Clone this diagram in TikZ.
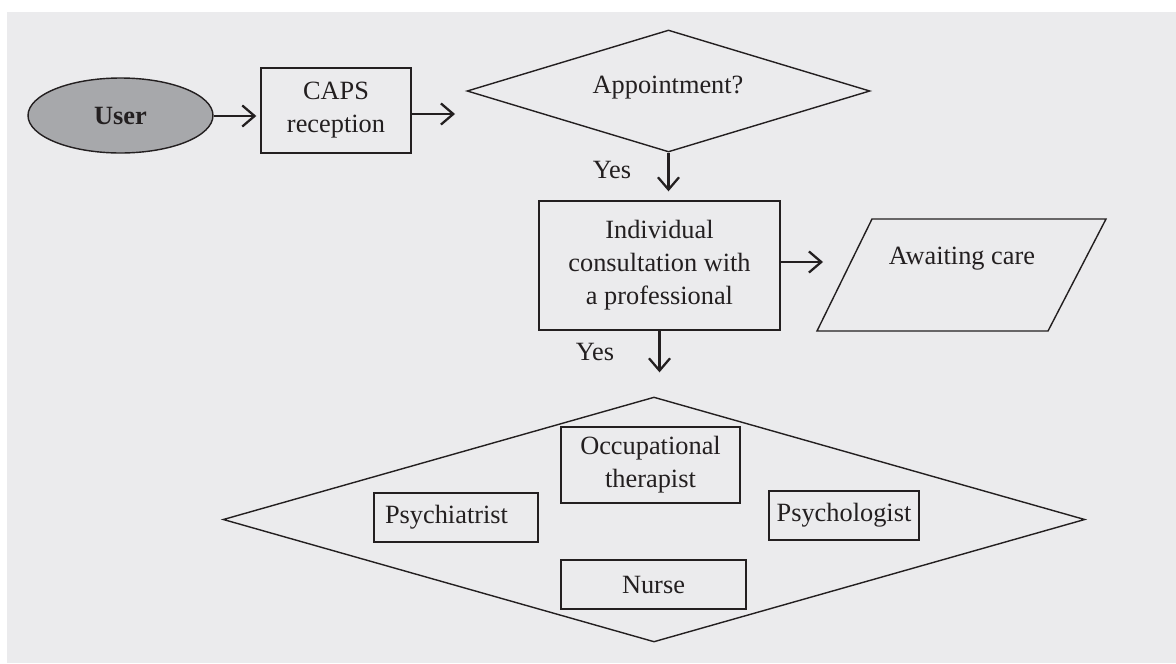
\documentclass[tikz,border=0pt]{standalone}
\usepackage{fontspec}
\setmainfont{Liberation Serif}
\usetikzlibrary{shapes.geometric,arrows.meta}
\definecolor{bg}{RGB}{235,235,237}
\definecolor{ink}{RGB}{35,31,32}
\definecolor{userfill}{RGB}{167,168,171}
\begin{document}
\begin{tikzpicture}[x=0.02cm,y=-0.02cm,
  font=\fontsize{15}{18.7}\selectfont, text=ink,
  box/.style={draw=ink, line width=0.8pt, rectangle, inner sep=0pt, align=center},
  dec/.style={draw=ink, line width=0.8pt, diamond, inner sep=0pt, align=center},
  arr/.style={draw=ink, line width=1.3pt, -{Straight Barb[length=7pt,width=12pt]}}]
\fill[white] (0,0) rectangle (1176,663);
\fill[bg] (7,12) rectangle (1176,663);
\useasboundingbox (0,0) rectangle (1176,663);

\node[ellipse, draw=ink, fill=userfill, line width=0.8pt, minimum width=3.7cm, minimum height=1.5cm, inner sep=0pt, font=\fontsize{15}{18}\selectfont\bfseries] (user) at (120.5,115.5) {User};
\node[box, minimum width=3cm, minimum height=1.7cm] (caps) at (336,110.5) {CAPS\\reception};
\node[dec, aspect=3.3, minimum width=8.06cm, minimum height=2.44cm] (appt) at (668.5,91) {};
\node (appttxt) at (668,88) {Appointment?};
\node[box, minimum width=4.82cm, minimum height=2.58cm] (indiv) at (659.5,265.5) {Individual\\consultation with\\a professional};
\draw[ink, line width=0.8pt] (817,331) coordinate (aw1) -- (1048,331) coordinate (aw2) -- (1106,219) coordinate (aw3) -- (872,219) coordinate (aw4) -- cycle;
\node (await) at (962,259) {Awaiting care};
\node[dec, aspect=3.5, minimum width=17.24cm, minimum height=4.9cm] (team) at (654,519.5) {};
\node[box, minimum width=3.58cm, minimum height=1.52cm] (ot) at (650.5,465) {Occupational\\therapist};
\node[box, minimum width=3.28cm, minimum height=0.98cm, inner xsep=0.22cm, text width=2.84cm, align=left] (psychiatrist) at (456,517.5) {Psychiatrist};
\node[box, minimum width=3cm, minimum height=0.98cm] (psychologist) at (844,515.5) {Psychologist};
\node[box, minimum width=3.7cm, minimum height=0.98cm] (nurse) at (653.5,584.5) {Nurse};

\coordinate (c1) at (0,116);
\draw[arr, shorten >=0.08cm] (user.east |- c1) -- (caps.west |- c1);
\coordinate (c2) at (455,114);
\draw[arr] (caps.east |- c2) -- (c2);
\draw[arr, shorten >=0.18cm] (appt.south) -- (appt.south |- indiv.north);
\node (yes1) at (612,170) {Yes};
\coordinate (c3) at (823,262);
\draw[arr] (indiv.east |- c3) -- (c3);
\draw[arr, shorten >=0.48cm] (indiv.south) -- (indiv.south |- team.north);
\node (yes2) at (595,352) {Yes};
\end{tikzpicture}
\end{document}
